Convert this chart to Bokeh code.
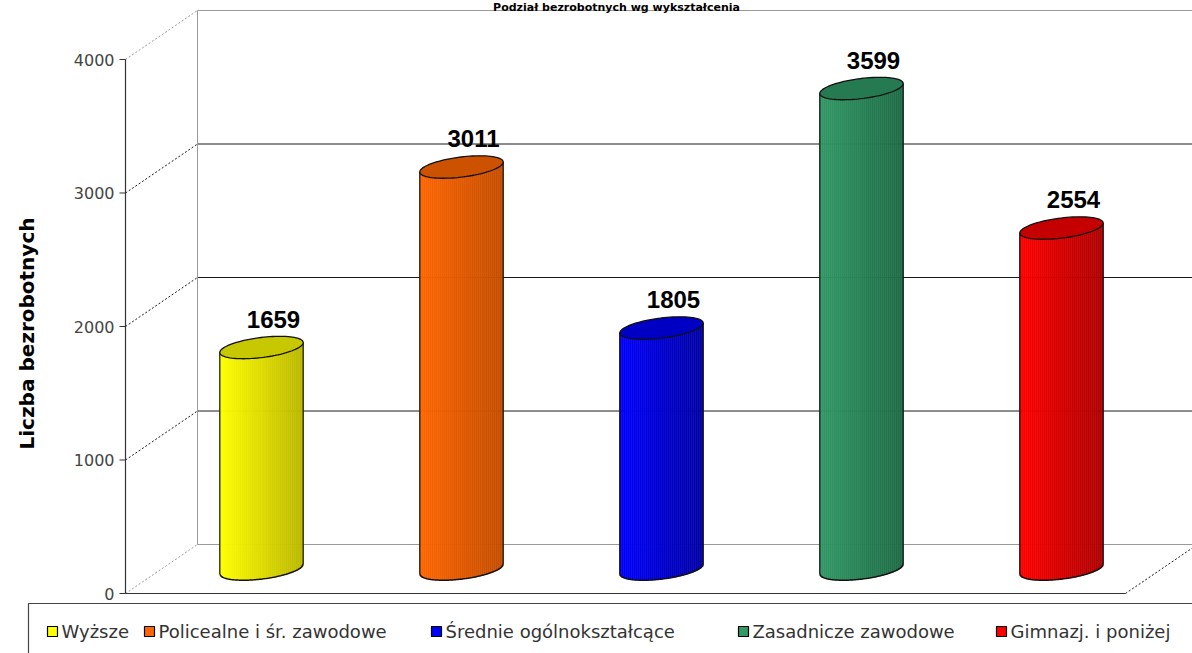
import math
import numpy as np
from bokeh.plotting import figure
from bokeh.models import Range1d, ColumnDataSource
from bokeh.core.properties import value
from bokeh.embed import file_html
from bokeh.resources import INLINE

# ---------------- data ----------------
title = "Podział bezrobotnych wg wykształcenia"
categories = ["Wyższe", "Policealne i śr. zawodowe", "Średnie ogólnokształcące",
              "Zasadnicze zawodowe", "Gimnazj. i poniżej"]
counts = [1659, 3011, 1805, 3599, 2554]
y_ticks = [0, 1000, 2000, 3000, 4000]
y_label = "Liczba bezrobotnych"
colors_light = ["#ffff00", "#ff6600", "#0000ff", "#339966", "#ff0000"]
colors_dark = ["#bcb800", "#c44e00", "#0000a4", "#1f6b46", "#ae0000"]
colors_top = ["#c8c800", "#cc5200", "#0000c4", "#267a52", "#c40000"]

# ---------------- layout (pixels) ----------------
W, H = 1192, 653
PX0 = 125            # figure x of the value axis (front plane)
PY0 = 593            # figure y (from top) of value 0 on the front plane
PPC = 200.0          # pixels per category
PPU = 534.0 / 4000   # pixels per value unit
DEPTH_X, DEPTH_Y = 72, 49   # 3-D depth offset in pixels
LEGEND_X = [47, 144, 431, 738, 996]   # x of legend squares


def fx(px):  # figure pixel x -> data x
    return (px - PX0) / PPC


def fy(py):  # figure pixel y (from top) -> data y
    return (PY0 - py) / PPU


DX = DEPTH_X / PPC
DY = DEPTH_Y / PPU
n = len(counts)
top_tick = y_ticks[-1]

p = figure(width=W, height=H,
           x_range=Range1d(fx(0), fx(W)), y_range=Range1d(fy(H), fy(0)),
           output_backend="svg", toolbar_location=None,
           x_axis_location=None, y_axis_location=None,
           min_border=0, outline_line_color=None,
           background_fill_color="white", border_fill_color="white")
p.xgrid.visible = False
p.ygrid.visible = False

GRAY = "#9a9a9a"
DARK = "#1a1a1a"

# back wall gridlines
for t in y_ticks:
    col = GRAY if t in (y_ticks[0], top_tick) else DARK
    p.segment(x0=[DX], y0=[t + DY], x1=[n + DX + 1], y1=[t + DY], line_color=col, line_width=1)
    p.segment(x0=[0], y0=[t], x1=[DX], y1=[t + DY], line_color=col, line_width=1, line_dash="2 2")
# back wall left edge
p.segment(x0=[DX], y0=[DY], x1=[DX], y1=[top_tick + DY], line_color=GRAY, line_width=1)
# floor
p.segment(x0=[0], y0=[0], x1=[n], y1=[0], line_color="#333333", line_width=1.2)
p.segment(x0=[n], y0=[0], x1=[n + DX], y1=[DY], line_color=DARK, line_width=1, line_dash="2 2")

# value axis
p.segment(x0=[0], y0=[0], x1=[0], y1=[top_tick], line_color="#333333", line_width=1.2)
p.segment(x0=[-6 / PPC] * len(y_ticks), y0=y_ticks, x1=[0] * len(y_ticks), y1=y_ticks,
          line_color="#333333", line_width=1.2)
p.text(x=[-11 / PPC] * len(y_ticks), y=y_ticks, text=[str(t) for t in y_ticks],
       text_align="right", text_baseline="middle", text_font=value("DejaVu Sans"),
       text_font_size="16px", text_color="#444444")
p.text(x=[fx(26)], y=[fy(333)], text=[y_label], angle=math.pi / 2,
       text_align="center", text_baseline="middle", text_font=value("DejaVu Sans"),
       text_font_style="bold", text_font_size="20px", text_color="#000000")

# title (small, squeezed into the strip at the very top)
p.text(x=[fx(616)], y=[fy(0)], text=[title], text_align="center", text_baseline="top",
       text_font=value("DejaVu Sans"), text_font_style="bold", text_font_size="11px",
       text_color="#000000")

# ---------------- cylinders ----------------
A_PX, B_PX, TH = 42.0, 10.0, 0.125
S, C = math.sin(TH), math.cos(TH)
HALF_W = math.sqrt(A_PX ** 2 * C ** 2 + B_PX ** 2 * S ** 2)


def arcs(xp):
    A = S * S / A_PX ** 2 + C * C / B_PX ** 2
    B = 2 * xp * S * C * (1 / A_PX ** 2 - 1 / B_PX ** 2)
    Cc = xp * xp * (C * C / A_PX ** 2 + S * S / B_PX ** 2) - 1
    r = math.sqrt(max(B * B - 4 * A * Cc, 0.0))
    return (-B - r) / (2 * A), (-B + r) / (2 * A)


def hex2rgb(h):
    return tuple(int(h[k:k + 2], 16) for k in (1, 3, 5))


def lerp(c1, c2, t):
    a, b = hex2rgb(c1), hex2rgb(c2)
    return "#%02x%02x%02x" % tuple(int(round(a[k] + (b[k] - a[k]) * t)) for k in range(3))


NS = 42
strips = dict(left=[], right=[], bottom=[], top=[], color=[])
arc_xs, arc_ys = [], []
side_x0, side_y0, side_x1, side_y1 = [], [], [], []
tops_xs, tops_ys = [], []
lab_x, lab_y = [], []
tt = np.linspace(0, 2 * math.pi, 90)
ex = A_PX * np.cos(tt) * C - B_PX * np.sin(tt) * S
ey = A_PX * np.cos(tt) * S + B_PX * np.sin(tt) * C
xs_arc = np.linspace(-HALF_W * 0.9999, HALF_W * 0.9999, 60)
lo_arc = np.array([arcs(x)[0] for x in xs_arc])
y_edge_l = arcs(-HALF_W * 0.9999)[0]
y_edge_r = arcs(HALF_W * 0.9999)[0]

for i, v in enumerate(counts):
    xc = i + 0.5 + DX / 2
    base = DY / 2
    topv = v + DY / 2
    for k in range(NS):
        x0p = -HALF_W + 2 * HALF_W * k / NS
        x1p = -HALF_W + 2 * HALF_W * (k + 1) / NS
        xm = (x0p + x1p) / 2
        lo, hi = arcs(xm)
        strips["left"].append(xc + x0p / PPC)
        strips["right"].append(xc + x1p / PPC)
        strips["bottom"].append(base + lo / PPU)
        strips["top"].append(topv + (lo + hi) / 2 / PPU)
        strips["color"].append(lerp(colors_light[i], colors_dark[i], (k + 0.5) / NS))
    arc_xs.append(list(xc + xs_arc / PPC))
    arc_ys.append(list(base + lo_arc / PPU))
    for xe, ye in ((-HALF_W, y_edge_l), (HALF_W, y_edge_r)):
        side_x0.append(xc + xe / PPC)
        side_x1.append(xc + xe / PPC)
        side_y0.append(base + ye / PPU)
        side_y1.append(topv + ye / PPU)
    tops_xs.append(list(xc + ex / PPC))
    tops_ys.append(list(topv + ey / PPU))
    lab_x.append(xc + 12 / PPC)
    lab_y.append(topv + 20 / PPU)

p.quad(source=ColumnDataSource(strips), left="left", right="right", bottom="bottom", top="top",
       fill_color="color", line_color="color", line_width=0.6)
p.multi_line(xs=arc_xs, ys=arc_ys, line_color="#111111", line_width=1.5)
p.segment(x0=side_x0, y0=side_y0, x1=side_x1, y1=side_y1, line_color="#111111", line_width=1.2)
p.patches(xs=tops_xs, ys=tops_ys, fill_color=colors_top, line_color="#111111", line_width=1.3)
p.text(x=lab_x, y=lab_y, text=[str(v) for v in counts], text_align="center",
       text_baseline="bottom", text_font=value("Liberation Sans Narrow, Liberation Sans"),
       text_font_style="bold", text_font_size="24px", text_color="#000000")

# ---------------- legend ----------------
p.quad(left=[fx(28)], right=[fx(W + 20)], top=[fy(603)], bottom=[fy(H + 20)],
       fill_color=None, line_color="#444444", line_width=1.2)
leg_sq_x = [fx(xp + 5) for xp in LEGEND_X]
leg_y = [fy(631)] * n
p.scatter(x=leg_sq_x, y=leg_y, marker="square", size=10, fill_color=colors_light,
          line_color="#000000", line_width=1.2)
p.text(x=[fx(xp + 14) for xp in LEGEND_X], y=leg_y, text=categories,
       text_align="left", text_baseline="middle", text_font=value("DejaVu Sans"),
       text_font_size="18px", text_color="#333333")

open("out.html", "w").write(file_html(p, INLINE))
